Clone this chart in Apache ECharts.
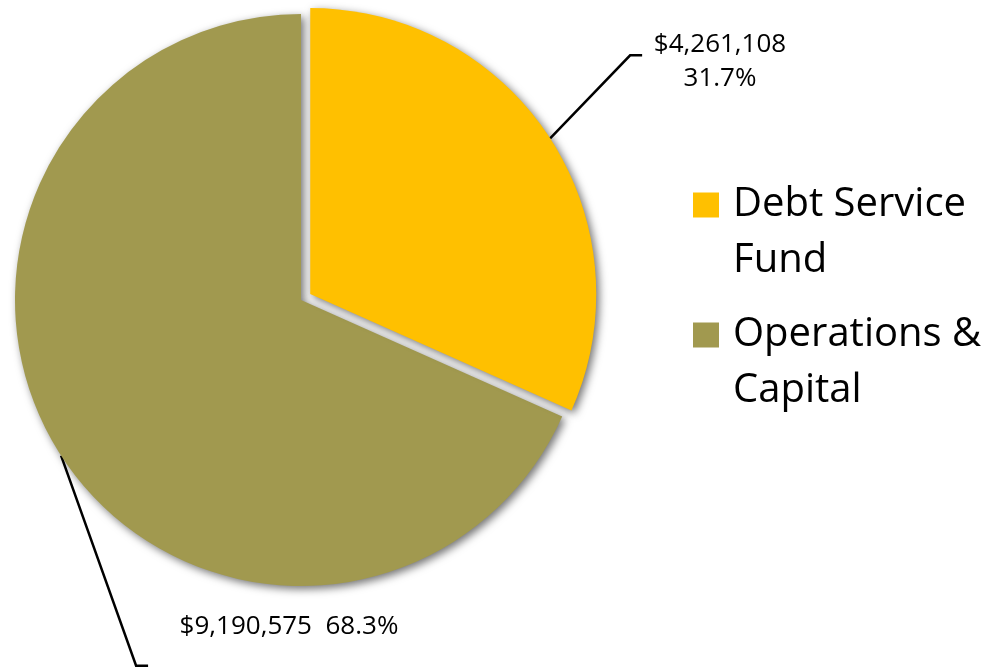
<!DOCTYPE html>
<html>
<head>
<meta charset="utf-8">
<style>
  html, body { margin: 0; padding: 0; background: #ffffff; }
  #chart { width: 1000px; height: 671px; }
</style>
<script src="https://cdn.jsdelivr.net/npm/echarts@6/dist/echarts.min.js"></script>
</head>
<body>
<div id="chart"></div>
<script>
// Fund split
const categories = ['Debt Service Fund', 'Operations & Capital'];
const amounts = [4261108, 9190575];
const sliceColors = ['#FFC000', '#A1994F'];

const FONT = '"Open Sans", "Noto Sans", sans-serif';
const CENTER = [301, 300];
const RADIUS = 286;
const EXPLODE = 11;          // pull-out distance of the debt slice
const EXPLODED_INDEX = 0;

const chart = echarts.init(document.getElementById('chart'), null, { renderer: 'canvas' });

function money(v) {
  return '$' + v.toLocaleString('en-US');
}

// Direction of the pulled-out slice: its mid angle, measured clockwise from 12 o'clock
const total = amounts.reduce(function (a, b) { return a + b; }, 0);
let before = 0;
for (let i = 0; i < EXPLODED_INDEX; i++) before += amounts[i];
const midAngle = (before + amounts[EXPLODED_INDEX] / 2) / total * 2 * Math.PI;
const explodedCenter = [
  CENTER[0] + EXPLODE * Math.sin(midAngle),
  CENTER[1] - EXPLODE * Math.cos(midAngle)
];

const shadow = {
  shadowBlur: 9,
  shadowColor: 'rgba(0,0,0,0.55)',
  shadowOffsetX: 3,
  shadowOffsetY: 3
};

const labelBase = {
  show: true,
  position: 'outside',
  fontFamily: FONT,
  fontSize: 26,
  lineHeight: 34,
  color: '#000000',
  formatter: function (p) {
    const pct = p.percent.toFixed(1) + '%';
    return p.dataIndex === 0 ? money(p.value) + '\n' + pct : money(p.value) + '  ' + pct;
  }
};

function leaderLayout(params) {
  const pts = params.labelLinePoints;
  if (!pts || !pts.length) return {};
  const s = pts[0];
  if (params.dataIndex === 0) {
    return {
      x: 720, y: 62, align: 'center', verticalAlign: 'middle',
      labelLinePoints: [s, [s[0] + 80, s[1] - 83], [s[0] + 92, s[1] - 83]]
    };
  }
  return {
    x: 289, y: 627, align: 'center', verticalAlign: 'middle',
    labelLinePoints: [s, [s[0] + 75, s[1] + 210], [s[0] + 87, s[1] + 210]]
  };
}

// One pie layer per position: the full pie with the pulled-out slice hidden,
// then the same pie shifted along the slice's mid angle showing only that slice.
function pieLayer(center, showIndex) {
  return {
    type: 'pie',
    center: center,
    radius: RADIUS,
    startAngle: 90,
    clockwise: true,
    avoidLabelOverlap: false,
    silent: true,
    emphasis: { disabled: true },
    label: labelBase,
    labelLine: {
      show: true,
      lineStyle: { color: '#000000', width: 2.5 }
    },
    labelLayout: leaderLayout,
    data: categories.map(function (name, i) {
      const visible = showIndex(i);
      return {
        name: name,
        value: amounts[i],
        itemStyle: visible
          ? Object.assign({ color: sliceColors[i] }, shadow)
          : { color: 'rgba(0,0,0,0)', shadowBlur: 0 },
        label: { show: visible },
        labelLine: { show: visible }
      };
    })
  };
}

chart.setOption({
  backgroundColor: '#ffffff',
  animation: false,
  legend: {
    orient: 'vertical',
    left: 693,
    top: 121,
    padding: 0,
    itemGap: -38,
    itemWidth: 26,
    itemHeight: 25,
    icon: 'rect',
    selectedMode: false,
    data: categories.map(function (name, i) {
      return { name: name, itemStyle: { color: sliceColors[i] } };
    }),
    // blank first line keeps the icon beside the first row of a two-row name
    formatter: function (name) {
      return ' \n' + name.replace(/ (\S+)$/, '\n$1');
    },
    textStyle: {
      fontFamily: FONT,
      fontSize: 40,
      lineHeight: 56,
      color: '#000000',
      padding: [0, 0, 0, 9]
    }
  },
  series: [
    pieLayer(CENTER, function (i) { return i !== EXPLODED_INDEX; }),
    pieLayer(explodedCenter, function (i) { return i === EXPLODED_INDEX; })
  ]
});
</script>
</body>
</html>
